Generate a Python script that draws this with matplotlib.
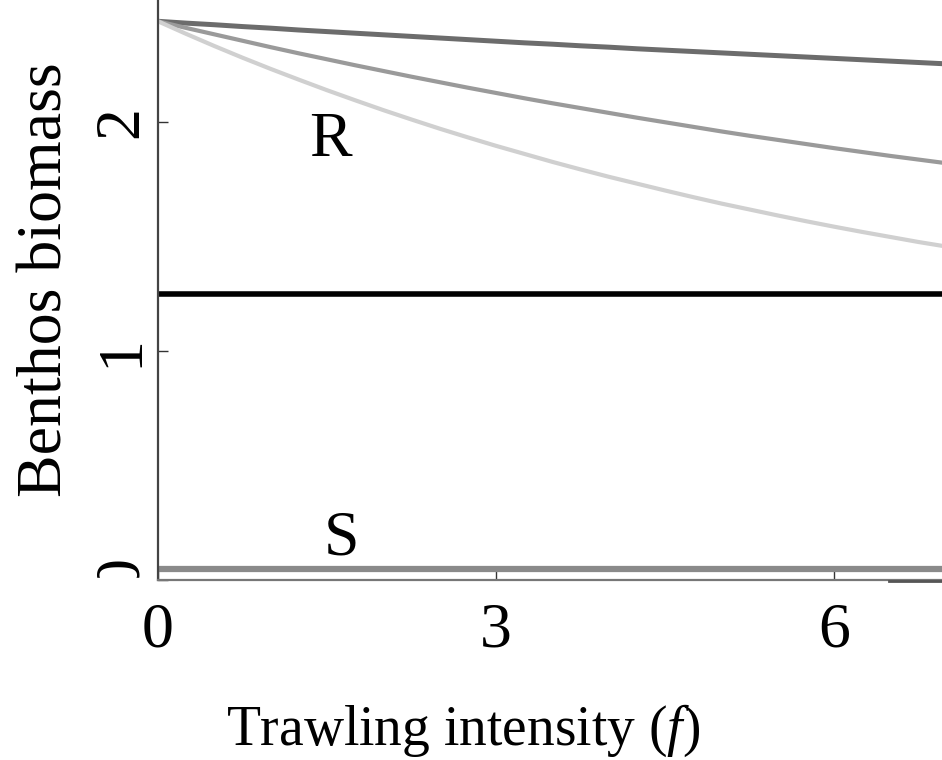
import matplotlib
matplotlib.use("Agg")
import matplotlib.pyplot as plt
from matplotlib.patches import Rectangle
from matplotlib.transforms import ScaledTranslation

plt.rcParams['font.family'] = ['Liberation Serif', 'DejaVu Serif']
plt.rcParams['mathtext.fontset'] = 'custom'
plt.rcParams['mathtext.rm'] = 'Liberation Serif'
plt.rcParams['mathtext.it'] = 'Liberation Serif:italic'

# ---- data ----
f = [0, 0.25, 0.5, 0.75, 1, 1.25, 1.5, 1.75, 2, 2.25, 2.5, 2.75, 3, 3.25, 3.5, 3.75,
     4, 4.25, 4.5, 4.75, 5, 5.25, 5.5, 5.75, 6, 6.25, 6.5, 6.75, 7]
R_low = [2.440, 2.432, 2.425, 2.417, 2.410, 2.402, 2.395, 2.388, 2.381, 2.374, 2.367, 2.360,
         2.353, 2.346, 2.340, 2.333, 2.327, 2.320, 2.314, 2.308, 2.302, 2.296, 2.290, 2.284,
         2.278, 2.272, 2.266, 2.260, 2.254]
R_mid = [2.440, 2.411, 2.383, 2.355, 2.327, 2.300, 2.274, 2.248, 2.223, 2.198, 2.174, 2.150,
         2.127, 2.104, 2.082, 2.061, 2.040, 2.019, 1.999, 1.979, 1.959, 1.940, 1.922, 1.904,
         1.886, 1.869, 1.852, 1.836, 1.820]
R_high = [2.440, 2.385, 2.332, 2.281, 2.232, 2.185, 2.139, 2.095, 2.052, 2.011, 1.971, 1.933,
          1.896, 1.861, 1.826, 1.793, 1.761, 1.731, 1.701, 1.672, 1.644, 1.618, 1.592, 1.567,
          1.543, 1.520, 1.498, 1.476, 1.456]
f_flat = [0, 7]
B_line = [1.25, 1.25]
S_line = [0.05, 0.05]
tail_f = [6.49, 7.0]
tail_y = [-0.004, -0.004]

x_ticks = [0, 3, 6]
y_ticks = [0, 1, 2]

fig = plt.figure(figsize=(9.42, 7.6), dpi=100)
W, H = 942, 760
ax = fig.add_axes([158 / W, 180 / H, 784 / W, 580 / H])
ax.set_xlim(0, 6.957)
ax.set_ylim(0, 2.533)

ax.plot(f, R_low, color='#6c6c6c', lw=3.6, solid_capstyle='butt')
ax.plot(f, R_mid, color='#9a9a9a', lw=3.0, solid_capstyle='butt')
ax.plot(f, R_high, color='#d0d0d0', lw=3.0, solid_capstyle='butt')
ax.plot(f_flat, B_line, color='black', lw=4.0, solid_capstyle='butt')
ax.plot(f_flat, S_line, color='#8a8a8a', lw=4.5, solid_capstyle='butt')
ax.plot(tail_f, tail_y, color='#555555', lw=2.0, clip_on=False, zorder=5)

ax.text(1.53, 1.85, 'R', fontsize=46, ha='center', va='baseline')
ax.text(1.63, 0.111, 'S', fontsize=46, ha='center', va='baseline')

for s in ['top', 'right']:
    ax.spines[s].set_visible(False)
ax.spines['left'].set_color('#444444')
ax.spines['left'].set_linewidth(1.6)
ax.spines['bottom'].set_color('#777777')
ax.spines['bottom'].set_linewidth(1.6)

ax.set_xticks(x_ticks)
ax.set_yticks(y_ticks)
ax.tick_params(axis='both', direction='in', length=7, width=1.0, color='#333333', labelsize=46)
ax.tick_params(axis='x', pad=16)
ax.tick_params(axis='y', pad=5, labelrotation=90)
for lab in ax.get_yticklabels():
    lab.set_va('center')
# the "0" label sits a little higher in the source
zero_lab = ax.get_yticklabels()[0]
zero_lab.set_transform(zero_lab.get_transform() + ScaledTranslation(0, 8 / 100, fig.dpi_scale_trans))

ax.set_xlabel(r'Trawling intensity ($\mathit{f}$)', fontsize=40)
ax.xaxis.set_label_coords((463 - 158) / 784, -(745 - 580) / 580)
ax.xaxis.label.set_va('baseline')
ax.set_ylabel('Benthos biomass', fontsize=46)
ax.yaxis.set_label_coords((62 - 158) / 784, (580 - 279.5) / 580)
ax.yaxis.label.set_va('baseline')

# mask lower part of the clipped "0" label, as in the source crop
fig.patches.append(Rectangle((70 / W, (H - 600) / H), 80 / W, 22 / H,
                             transform=fig.transFigure, color='white', zorder=10))

fig.savefig('out.png', dpi=100)
